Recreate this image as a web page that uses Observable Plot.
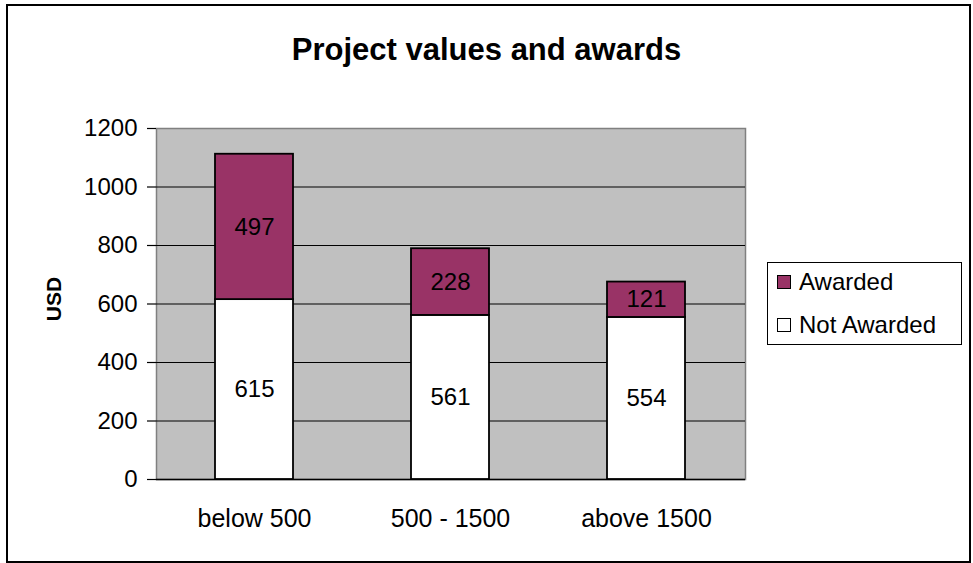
<!DOCTYPE html>
<html>
<head>
<meta charset="utf-8">
<script src="https://cdn.jsdelivr.net/npm/d3@7"></script>
<script src="https://cdn.jsdelivr.net/npm/@observablehq/plot@0.6"></script>
<style>
  html, body { margin: 0; padding: 0; background: #fff; }
  #wrap { position: relative; width: 973px; height: 563px; font-family: "Liberation Sans", Arial, sans-serif; overflow: hidden; }
  #border { position: absolute; left: 6px; top: 4px; width: 965px; height: 559px; box-sizing: border-box; border: 2.5px solid #000; pointer-events: none; }
  #title { position: absolute; left: 0; width: 973px; top: 34px; line-height: 1; text-align: center; font-weight: bold; font-size: 31px; color: #000; }
  #ylabel { position: absolute; left: 53px; top: 299px; transform: translate(-50%, -50%) rotate(-90deg); font-weight: bold; font-size: 21px; line-height: 1; white-space: nowrap; }
  #legend { position: absolute; left: 767px; top: 262px; width: 195px; height: 83px; box-sizing: border-box; border: 1px solid #000; background: #fff; font-size: 24px; }
  .item { position: absolute; left: 9px; display: flex; align-items: center; white-space: nowrap; line-height: 1; }
  .sw { width: 14px; height: 14px; box-sizing: border-box; border: 1.5px solid #000; margin-right: 8px; }
  #plot { position: absolute; left: 0; top: 0; }
</style>
</head>
<body>
<div id="wrap">
  <div id="plot"></div>
  <div id="title">Project values and awards</div>
  <div id="ylabel">USD</div>
  <div id="legend"></div>
  <div id="border"></div>
</div>
<script>
const categories = ["below 500", "500 - 1500", "above 1500"];
const notAwarded = [615, 561, 554];
const awarded = [497, 228, 121];
const seriesNames = ["Not Awarded", "Awarded"];
const seriesColors = ["#ffffff", "#993366"];
const yTicks = [0, 200, 400, 600, 800, 1000, 1200];
const gridTicks = [200, 400, 600, 800, 1000];

const data = [];
categories.forEach((c, i) => data.push({cat: c, status: "Not Awarded", value: notAwarded[i]}));
categories.forEach((c, i) => data.push({cat: c, status: "Awarded", value: awarded[i]}));

const font = "Liberation Sans, Arial, sans-serif";

const chart = Plot.plot({
  width: 973,
  height: 563,
  marginLeft: 156,
  marginRight: 228,
  marginTop: 128,
  marginBottom: 84,
  style: {fontFamily: font, fontSize: "24px", color: "#000", background: "transparent", overflow: "visible"},
  x: {domain: categories, paddingInner: 0.6, paddingOuter: 0.3, label: null},
  y: {domain: [0, 1200], label: null},
  color: {domain: seriesNames, range: seriesColors},
  marks: [
    Plot.frame({fill: "#c0c0c0", stroke: "#808080", strokeWidth: 1.5}),
    Plot.ruleY(gridTicks, {stroke: "#000", strokeWidth: 1.2}),
    Plot.ruleY([0], {stroke: "#000", strokeWidth: 1.5}),
    Plot.axisY({ticks: yTicks, tickSize: 9, tickPadding: 10, tickFormat: d => String(d), stroke: "#000", strokeWidth: 1.2, fontSize: 24, label: null}),
    Plot.barY(data, {x: "cat", y: "value", fill: "status", order: seriesNames, stroke: "#000", strokeWidth: 1.8, inset: 0}),
    Plot.text(data, Plot.stackY({x: "cat", y: "value", z: "status", order: seriesNames, text: d => String(d.value), fontSize: 24, fill: "#000"})),
    Plot.axisX({tickSize: 0, tickPadding: 30, fontSize: 25, label: null}),
    Plot.tickX([0, 1, 2, 3], {x: i => i, y1: 0, y2: 0, render: (idx, scales, vals, dims, ctx) => {
      const g = d3.create("svg:g");
      const step = (dims.width - dims.marginLeft - dims.marginRight) / categories.length;
      const y0 = dims.height - dims.marginBottom;
      for (const i of idx) {
        const x = dims.marginLeft + i * step;
        g.append("line").attr("x1", x).attr("x2", x).attr("y1", y0).attr("y2", y0 + 8).attr("stroke", "#555").attr("stroke-width", 1.2);
      }
      return g.node();
    }})
  ]
});
document.getElementById("plot").appendChild(chart);

const legend = document.getElementById("legend");
[["Awarded", "#993366", 19], ["Not Awarded", "#ffffff", 62]].forEach(([name, col, center]) => {
  const it = document.createElement("div");
  it.className = "item";
  it.style.top = (center - 12) + "px";
  it.innerHTML = `<div class="sw" style="background:${col}"></div><span>${name}</span>`;
  legend.appendChild(it);
});
</script>
</body>
</html>
